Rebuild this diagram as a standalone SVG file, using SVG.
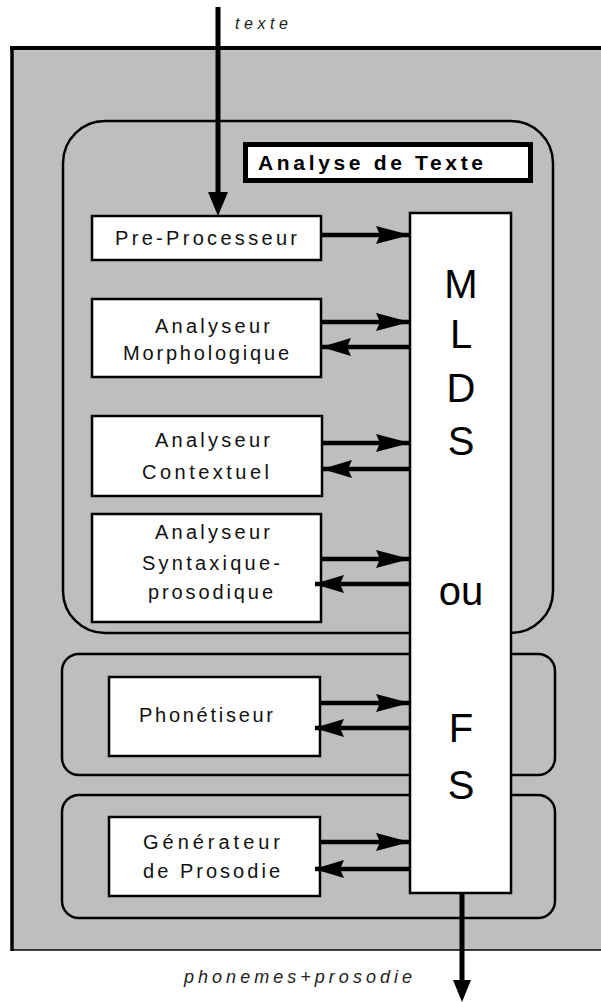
<svg xmlns="http://www.w3.org/2000/svg" width="601" height="1002" viewBox="0 0 601 1002">
<style>
.box{fill:#fff;stroke:#000;stroke-width:2.5}
.grp{fill:none;stroke:#000;stroke-width:2.5}
.lbl{font-family:"Liberation Sans",Arial,sans-serif;font-size:20px;fill:#111}
.big{font-family:"Liberation Sans",Arial,sans-serif;font-size:40px;fill:#000;text-anchor:middle}
.it{font-family:"Liberation Sans",Arial,sans-serif;font-style:italic;fill:#222}
.arr{stroke:#000;stroke-width:4.5;fill:none}
</style>
<defs>
<marker id="ah" markerUnits="userSpaceOnUse" viewBox="0 0 34 18" markerWidth="34" markerHeight="18" refX="33" refY="9" orient="auto" overflow="visible">
<path d="M0,0 L34,9 L0,18 L4,9 z" fill="#000"/>
</marker>
<marker id="ahb" markerUnits="userSpaceOnUse" viewBox="0 0 30 18" markerWidth="30" markerHeight="18" refX="29" refY="9" orient="auto" overflow="visible">
<path d="M0,0 L30,9 L0,18 L4,9 z" fill="#000"/>
</marker>
</defs>
<g id="background">
<rect x="12" y="48" width="600" height="902" fill="#bebebe"/>
<line x1="10" y1="48" x2="601" y2="48" stroke="#000" stroke-width="4"/>
<line x1="12" y1="46" x2="12" y2="951" stroke="#000" stroke-width="3.5"/>
<line x1="11" y1="950" x2="601" y2="950" stroke="#000" stroke-width="1.5"/>
</g>
<g id="group-analyse">
<rect class="grp" x="63" y="121" width="490" height="512" rx="42" ry="42" stroke-width="3"/>
<rect x="245.5" y="144.5" width="285" height="36" fill="#fff" stroke="#000" stroke-width="5"/>
<text x="258" y="170" font-family="Liberation Sans,Arial,sans-serif" font-weight="bold" font-size="21" textLength="225" lengthAdjust="spacing" fill="#000">Analyse de Texte</text>
</g>
<g id="group-phonetiseur">
<rect class="grp" x="62" y="654" width="493" height="121" rx="17" ry="17"/>
</g>
<g id="group-prosodie">
<rect class="grp" x="62" y="795" width="493" height="123" rx="17" ry="17"/>
</g>
<g id="pre-processeur">
<rect class="box" x="92" y="216" width="229" height="44"/>
<text class="lbl" x="115" y="245" textLength="182" lengthAdjust="spacing">Pre-Processeur</text>
</g>
<g id="analyseur-morphologique">
<rect class="box" x="92" y="299" width="229" height="78"/>
<text class="lbl" x="155" y="333" textLength="115" lengthAdjust="spacing">Analyseur</text>
<text class="lbl" x="123" y="360" textLength="166" lengthAdjust="spacing">Morphologique</text>
</g>
<g id="analyseur-contextuel">
<rect class="box" x="92" y="416" width="230" height="80"/>
<text class="lbl" x="155" y="447" textLength="115" lengthAdjust="spacing">Analyseur</text>
<text class="lbl" x="142" y="479" textLength="127" lengthAdjust="spacing">Contextuel</text>
</g>
<g id="analyseur-syntaxique">
<rect class="box" x="92" y="514" width="229" height="108"/>
<text class="lbl" x="155" y="539" textLength="115" lengthAdjust="spacing">Analyseur</text>
<text class="lbl" x="142" y="570" textLength="138" lengthAdjust="spacing">Syntaxique-</text>
<text class="lbl" x="148" y="599" textLength="125" lengthAdjust="spacing">prosodique</text>
</g>
<g id="phonetiseur">
<rect class="box" x="109" y="677" width="211" height="79"/>
<text class="lbl" x="139" y="722" textLength="134" lengthAdjust="spacing">Phonétiseur</text>
</g>
<g id="generateur">
<rect class="box" x="109" y="817" width="211" height="79"/>
<text class="lbl" x="143" y="849" textLength="137" lengthAdjust="spacing">Générateur</text>
<text class="lbl" x="143" y="878" textLength="137" lengthAdjust="spacing">de Prosodie</text>
</g>
<g id="mlds">
<rect class="box" x="410" y="213" width="101" height="680"/>
<text class="big" x="461" y="298">M</text>
<text class="big" x="461" y="348">L</text>
<text class="big" x="461" y="402">D</text>
<text class="big" x="461" y="455">S</text>
<text class="big" x="461" y="605">ou</text>
<text class="big" x="461" y="742">F</text>
<text class="big" x="461" y="799">S</text>
</g>
<g id="connectors">
<line x1="218" y1="7" x2="218" y2="196" stroke="#000" stroke-width="5"/>
<polygon points="208,192 228,192 218,216" fill="#000"/>
<line class="arr" x1="322" y1="235" x2="409" y2="235" marker-end="url(#ah)"/>
<line class="arr" x1="322" y1="322" x2="409" y2="322" marker-end="url(#ah)"/>
<line class="arr" x1="409" y1="347" x2="322" y2="347" marker-end="url(#ahb)"/>
<line class="arr" x1="323" y1="443" x2="409" y2="443" marker-end="url(#ah)"/>
<line class="arr" x1="409" y1="469" x2="323" y2="469" marker-end="url(#ahb)"/>
<line class="arr" x1="322" y1="559" x2="409" y2="559" marker-end="url(#ah)"/>
<line class="arr" x1="409" y1="584" x2="315" y2="584" marker-end="url(#ahb)"/>
<line class="arr" x1="321" y1="703" x2="409" y2="703" marker-end="url(#ah)"/>
<line class="arr" x1="409" y1="728" x2="315" y2="728" marker-end="url(#ahb)"/>
<line class="arr" x1="321" y1="842" x2="409" y2="842" marker-end="url(#ah)"/>
<line class="arr" x1="409" y1="869" x2="315" y2="869" marker-end="url(#ahb)"/>
<line x1="462" y1="894" x2="462" y2="985" stroke="#000" stroke-width="5"/>
<polygon points="453,980 471,980 462,1002" fill="#000"/>
</g>
<g id="labels">
<text class="it" x="235" y="29" font-size="16" textLength="53" lengthAdjust="spacing">texte</text>
<text class="it" x="184" y="983" font-size="18" textLength="228" lengthAdjust="spacing">phonemes+prosodie</text>
</g>
</svg>
